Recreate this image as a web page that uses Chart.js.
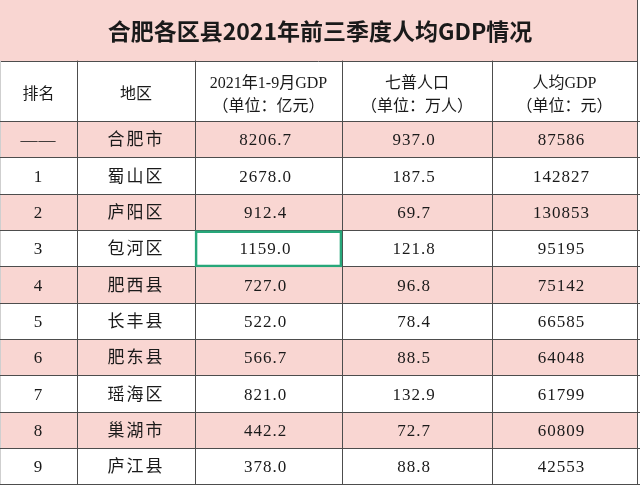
<!DOCTYPE html>
<html>
<head>
<meta charset="utf-8">
<title>合肥各区县2021年前三季度人均GDP情况</title>
<script src="https://cdn.jsdelivr.net/npm/chart.js@4"></script>
<style>
    html, body { margin: 0; padding: 0; background: #ffffff; }
    canvas { display: block; }
</style>
</head>
<body>
<canvas id="table" width="640" height="485"></canvas>
<script>
const TITLE = "合肥各区县2021年前三季度人均GDP情况";
const headers = ["排名", "地区", ["2021年1-9月GDP", "（单位：亿元）"], ["七普人口", "（单位：万人）"], ["人均GDP", "（单位：元）"]];
const ranks = ["——", "1", "2", "3", "4", "5", "6", "7", "8", "9"];
const regions = ["合肥市", "蜀山区", "庐阳区", "包河区", "肥西县", "长丰县", "肥东县", "瑶海区", "巢湖市", "庐江县"];
const gdp = [8206.7, 2678.0, 912.4, 1159.0, 727.0, 522.0, 566.7, 821.0, 442.2, 378.0];
const population = [937.0, 187.5, 69.7, 121.8, 96.8, 78.4, 88.5, 132.9, 72.7, 88.8];
const perCapita = [87586, 142827, 130853, 95195, 75142, 66585, 64048, 61799, 60809, 42553];
const selectedRow = 3;   // the cell with the green selection box (GDP column)

// layout only
const colEdges = [0, 77, 195, 342, 492, 637];
const PINK = "#f9d6d2";
const LINE = "#4d4d4d";
const GREEN = "#27a77a";
const TEXT = "#1a1a1a";
const BODY_FONT = "'Liberation Serif', 'Noto Sans CJK SC', serif";

var tableChart;

window.onload = function () {
    initTable();
}

function colCenter(i) {
    return (colEdges[i] + colEdges[i + 1]) / 2;
}

function cellTexts(i) {
    return [ranks[i], regions[i], gdp[i].toFixed(1), population[i].toFixed(1), String(perCapita[i])];
}

// pink title band, its bottom line and the outer right border of the title row
const titleBackground = {
    id: 'titleBackground',
    beforeDraw: function (chart) {
        var ctx = chart.ctx;
        var bottom = Math.round(chart.titleBlock.bottom);
        var right = chart.scales.x.getPixelForValue(colEdges[5]);
        ctx.save();
        ctx.fillStyle = "#ffffff";
        ctx.fillRect(0, 0, chart.width, chart.height);
        ctx.fillStyle = PINK;
        ctx.fillRect(0, 0, right, bottom);
        ctx.strokeStyle = LINE;
        ctx.lineWidth = 1;
        ctx.beginPath();
        ctx.moveTo(0, bottom + 0.5);
        ctx.lineTo(right, bottom + 0.5);
        ctx.moveTo(Math.round(right) + 0.5, 0);
        ctx.lineTo(Math.round(right) + 0.5, bottom);
        ctx.stroke();
        ctx.restore();
    }
};

// cell texts, placed with the chart's own scales
const cellText = {
    id: 'cellText',
    afterDraw: function (chart) {
        var ctx = chart.ctx;
        var xs = chart.scales.x;
        var ys = chart.scales.y;
        // put the selection box back on top of the grid lines
        var sel = chart.getDatasetMeta(1).data[selectedRow];
        if (sel) sel.draw(ctx);
        ctx.save();
        ctx.fillStyle = TEXT;
        ctx.textAlign = 'center';
        ctx.textBaseline = 'middle';
        ctx.font = "17px " + BODY_FONT;
        regions.forEach(function (r, i) {
            var y = ys.getPixelForValue(i) + 1;
            cellTexts(i).forEach(function (t, c) {
                ctx.letterSpacing = c === 1 ? "2px" : "1px";
                var shift = c >= 2 ? -3 : 0;
                ctx.fillText(t, xs.getPixelForValue(colCenter(c)) + shift, y);
            });
        });
        ctx.restore();
    }
};

function initTable() {
    var ctx = document.getElementById('table');
    tableChart = new Chart(ctx, {
        type: 'bar',
        data: {
            labels: regions,
            datasets: [{
                label: "rows",
                data: regions.map(function () { return [colEdges[0], colEdges[5]]; }),
                backgroundColor: regions.map(function (r, i) { return i % 2 === 0 ? PINK : "#ffffff"; }),
                borderWidth: 0,
                barPercentage: 1,
                categoryPercentage: 1,
                grouped: false
            }, {
                label: "selected",
                data: regions.map(function (r, i) { return i === selectedRow ? [colEdges[2], colEdges[3]] : null; }),
                backgroundColor: "rgba(0,0,0,0)",
                borderColor: GREEN,
                borderWidth: 2,
                borderSkipped: false,
                barPercentage: 1,
                categoryPercentage: 1,
                grouped: false
            }]
        },
        options: {
            indexAxis: 'y',
            responsive: false,
            animation: false,
            events: [],
            layout: { padding: 0 },
            plugins: {
                legend: { display: false },
                tooltip: { enabled: false },
                title: {
                    display: true,
                    text: TITLE,
                    color: TEXT,
                    font: { family: "'Noto Sans CJK SC', sans-serif", size: 23, weight: 'bold', lineHeight: 1.2 },
                    padding: { top: 17, bottom: 16 }
                }
            },
            scales: {
                x: {
                    type: 'linear',
                    position: 'top',
                    min: 0,
                    max: 640,
                    weight: 0,
                    afterBuildTicks: function (scale) {
                        scale.ticks = colEdges.map(function (v) { return { value: v }; });
                    },
                    afterFit: function (scale) {
                        scale.height = 0;
                        scale.paddingLeft = 0;
                        scale.paddingRight = 0;
                    },
                    ticks: { display: false },
                    grid: {
                        z: 1,
                        tickLength: 61,
                        color: function (c) { return c.index === 0 ? "#cfcfcf" : LINE; }
                    },
                    border: { display: false }
                },
                xh: {
                    type: 'linear',
                    position: 'top',
                    min: 0,
                    max: 640,
                    weight: 1,
                    afterBuildTicks: function (scale) {
                        scale.ticks = headers.map(function (h, i) { return { value: colCenter(i) }; });
                    },
                    afterFit: function (scale) {
                        scale.height = 61;
                        scale.paddingLeft = 0;
                        scale.paddingRight = 0;
                    },
                    ticks: {
                        autoSkip: false,
                        maxRotation: 0,
                        crossAlign: 'center',
                        padding: 7,
                        color: TEXT,
                        font: { family: BODY_FONT, size: 16, lineHeight: 1.44 },
                        callback: function (v, i) { return headers[i]; }
                    },
                    grid: { display: false },
                    border: { display: false }
                },
                y: {
                    type: 'category',
                    offset: true,
                    afterFit: function (scale) {
                        scale.width = 0;
                        scale.paddingTop = 0;
                        scale.paddingBottom = 0;
                    },
                    ticks: { display: false },
                    grid: { z: 1, offset: true, drawTicks: false, color: LINE },
                    border: { display: false }
                }
            }
        },
        plugins: [titleBackground, cellText]
    });
}
</script>
</body>
</html>
